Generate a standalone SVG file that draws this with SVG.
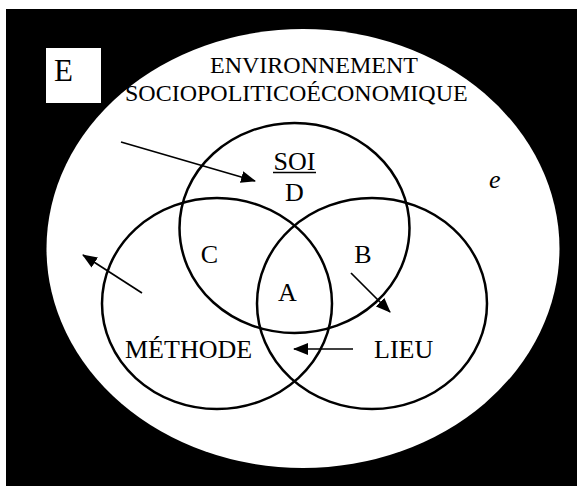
<svg xmlns="http://www.w3.org/2000/svg" width="577" height="487" viewBox="0 0 577 487">
  <style>
    .t { font-family: "Liberation Serif", "Times New Roman", serif; fill: #000; }
    .c { fill: none; stroke: #000; stroke-width: 2.5; }
    .a { stroke: #000; stroke-width: 1.7; fill: none; marker-end: url(#ah); }
  </style>
  <defs>
    <marker id="ah" markerUnits="userSpaceOnUse" markerWidth="15" markerHeight="12" refX="14" refY="6" orient="auto">
      <path d="M0,0 L15,6 L0,12 z" fill="#000"/>
    </marker>
  </defs>
  <rect x="0" y="0" width="577" height="487" fill="#fff"/>
  <rect x="6" y="9" width="571" height="477" fill="#000"/>
  <g id="environnement">
    <ellipse cx="303" cy="248.5" rx="256.5" ry="219.5" fill="#fff"/>
    <text class="t" x="210" y="73" font-size="24">ENVIRONNEMENT</text>
    <text class="t" x="125" y="101" font-size="24">SOCIOPOLITICOÉCONOMIQUE</text>
    <text class="t" x="489" y="188" font-size="26" font-style="italic">e</text>
  </g>
  <g id="e-box">
    <rect x="46" y="48" width="55" height="55" fill="#fff"/>
    <text class="t" x="54" y="81" font-size="31">E</text>
  </g>
  <g id="soi">
    <ellipse class="c" cx="294.5" cy="228" rx="115" ry="105"/>
    <text class="t" x="294.5" y="170" font-size="26" text-anchor="middle">SOI</text>
    <line x1="273" y1="172.5" x2="316" y2="172.5" stroke="#000" stroke-width="1.3"/>
    <text class="t" x="294.5" y="201" font-size="26" text-anchor="middle">D</text>
  </g>
  <g id="methode">
    <ellipse class="c" cx="217" cy="303.5" rx="115" ry="105.5"/>
    <text class="t" x="125" y="358" font-size="26">MÉTHODE</text>
  </g>
  <g id="lieu">
    <ellipse class="c" cx="372" cy="303.5" rx="115" ry="105.5"/>
    <text class="t" x="374" y="358" font-size="26">LIEU</text>
  </g>
  <g id="regions">
    <text class="t" x="209.5" y="263" font-size="26" text-anchor="middle">C</text>
    <text class="t" x="363" y="263" font-size="26" text-anchor="middle">B</text>
    <text class="t" x="287.5" y="301" font-size="26" text-anchor="middle">A</text>
  </g>
  <g id="connectors">
    <line class="a" x1="121" y1="142" x2="255" y2="181"/>
    <line class="a" x1="142" y1="293" x2="83" y2="255"/>
    <line class="a" x1="351" y1="273" x2="390" y2="312"/>
    <line class="a" x1="353" y1="349" x2="294" y2="349"/>
  </g>
</svg>
